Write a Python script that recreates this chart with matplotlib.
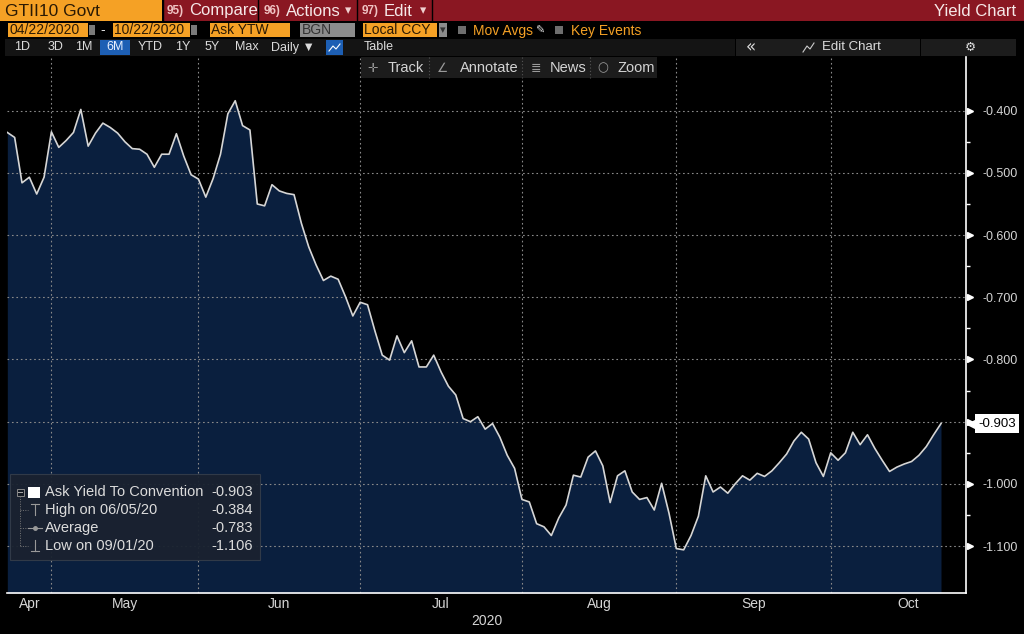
import matplotlib.pyplot as plt
import matplotlib.transforms as mtransforms
from matplotlib.patches import Rectangle
import numpy as np
import pandas as pd

plt.rcParams['font.family'] = ['Liberation Sans', 'DejaVu Sans']
plt.rcParams['axes.unicode_minus'] = False

# GTII10 Govt ask yield, daily, 04/22/2020 - 10/22/2020
yields = [
    -0.435, -0.443, -0.516, -0.507, -0.534, -0.507, -0.434, -0.459, -0.448, -0.435,
    -0.398, -0.457, -0.436, -0.420, -0.427, -0.436, -0.450, -0.461, -0.462, -0.470,
    -0.491, -0.470, -0.470, -0.437, -0.473, -0.503, -0.510, -0.539, -0.509, -0.470,
    -0.405, -0.384, -0.424, -0.431, -0.550, -0.553, -0.519, -0.529, -0.533, -0.535,
    -0.581, -0.619, -0.648, -0.673, -0.666, -0.671, -0.699, -0.730, -0.708, -0.712,
    -0.754, -0.793, -0.801, -0.762, -0.789, -0.770, -0.812, -0.812, -0.793, -0.820,
    -0.843, -0.857, -0.895, -0.900, -0.892, -0.912, -0.903, -0.925, -0.954, -0.975,
    -1.025, -1.029, -1.064, -1.069, -1.083, -1.055, -1.034, -0.986, -0.989, -0.957,
    -0.947, -0.971, -1.030, -0.987, -0.979, -1.013, -1.025, -1.022, -1.042, -0.999,
    -1.047, -1.104, -1.106, -1.083, -1.052, -0.987, -1.013, -1.005, -1.015, -1.000,
    -0.987, -0.994, -0.983, -0.988, -0.979, -0.966, -0.952, -0.931, -0.917, -0.928,
    -0.966, -0.988, -0.950, -0.962, -0.950, -0.917, -0.937, -0.921, -0.943, -0.962,
    -0.980, -0.973, -0.968, -0.964, -0.954, -0.940, -0.921, -0.903,
]
bond_holidays = ['2020-05-25', '2020-07-03', '2020-09-07', '2020-10-12']
month_names = ['Apr', 'May', 'Jun', 'Jul', 'Aug', 'Sep', 'Oct']
y_ticks = [-0.4, -0.5, -0.6, -0.7, -0.8, -0.9, -1.0, -1.1]
legend_labels = ['Ask Yield To Convention', 'High on 06/05/20', 'Average', 'Low on 09/01/20']
legend_values = ['-0.903', '-0.384', '-0.783', '-1.106']

cal = pd.bdate_range('2020-04-22', '2020-10-31', freq='C', holidays=bond_holidays)
x = np.arange(len(yields))
pos = pd.Series(np.arange(len(cal)), index=cal)
month_ends = pos.groupby(cal.month).max().values
bounds = np.concatenate([[0], month_ends])
month_mid = (bounds[:-1] + bounds[1:]) / 2

W, H = 1024, 634
fig = plt.figure(figsize=(W / 100, H / 100), dpi=100, facecolor='black')

ax = fig.add_axes([7.3 / W, 41 / H, 958.7 / W, 536 / H], facecolor='black')
ax.set_xlim(0, 130.4)
ax.set_ylim(-1.1754, -0.3137)
ybot = ax.get_ylim()[0]
ax.fill_between(x, yields, ybot, color='#0a1f3e', lw=0, zorder=1)
ax.plot(x, yields, color='#d6d6d6', lw=1.2, zorder=3)

grid_kw = dict(color='#8a8a8a', lw=0.8, ls=(0, (1.5, 2.5)), zorder=2)
for yt in y_ticks:
    ax.axhline(yt, **grid_kw)
for me in month_ends[:-1]:
    ax.axvline(me, **grid_kw)

for s in ['left', 'top']:
    ax.spines[s].set_visible(False)
for s in ['right', 'bottom']:
    ax.spines[s].set_color('white')
    ax.spines[s].set_linewidth(1.2)

last = yields[-1]
ax.set_xticks([])
ax.yaxis.tick_right()
ax.set_yticks(y_ticks)
# the tick label next to the last-value tag is hidden behind it
ax.set_yticklabels(['' if abs(v - last) < 0.03 else f'{v:.3f}' for v in y_ticks])
ax.set_yticks(np.array(y_ticks[:-1]) - 0.05, minor=True)
ax.tick_params(axis='y', which='major', length=0, pad=12, labelsize=9, labelcolor='#d4d4d4')
ax.tick_params(axis='y', which='minor', length=3, width=1, color='white', direction='out')

blend = mtransforms.blended_transform_factory(ax.transAxes, ax.transData)
ax.plot([1 + 4 / 958] * len(y_ticks), y_ticks, ls='none', marker='>', ms=5,
        color='white', transform=blend, clip_on=False)

# last value tag
ax.plot([1 + 7 / 958], [last], marker='<', ms=9, color='white',
        transform=blend, clip_on=False, zorder=6)
ax.text(1 + 12 / 958, last, f'{last:.3f}', transform=blend, fontsize=9.5,
        color='black', va='center', ha='left', zorder=7,
        bbox=dict(boxstyle='square,pad=0.25', fc='white', ec='none'))

xblend = mtransforms.blended_transform_factory(ax.transData, ax.transAxes)
for m, xm in zip(month_names, month_mid):
    ax.text(xm, -0.021, m, transform=xblend, fontsize=10, color='#d4d4d4',
            ha='center', va='center')
ax.text(0.5, -0.052, '2020', transform=ax.transAxes, fontsize=10, color='#d4d4d4',
        ha='center', va='center')

# terminal chrome drawn in pixel coords
ov = fig.add_axes([0, 0, 1, 1], zorder=5)
ov.set_xlim(0, W)
ov.set_ylim(H, 0)
ov.axis('off')
ov.patch.set_alpha(0)


def box(x0, x1, y0, y1, c, **kw):
    ov.add_patch(Rectangle((x0, y0), x1 - x0, y1 - y0, fc=c, ec=kw.pop('ec', 'none'), **kw))


def txt(xp, yp, s, size=10, c='#e0e0e0', ha='left', **kw):
    ov.text(xp, yp, s, fontsize=size, color=c, ha=ha, va='center', **kw)


orange = '#f5a125'
dark = '#2b1a04'

# row 1
box(0, 162, 0, 21, orange)
txt(5, 11, 'GTII10 Govt', 12.5, dark)
box(163, W, 0, 21, '#8a1722')
for sx in [163, 258, 357, 432]:
    ov.plot([sx, sx], [0, 21], color='black', lw=1)
for x0, num, lab in [(167, '95)', 'Compare'), (264, '96)', 'Actions'), (362, '97)', 'Edit')]:
    txt(x0, 11, num, 8.5, '#f0c4c4', weight='bold')
    txt(x0 + 22, 11, lab, 12, '#f6e8e8')
for ax_x in [345, 420]:
    txt(ax_x, 11, '▾', 9, '#f0d0d0', family='DejaVu Sans')
txt(1016, 11, 'Yield Chart', 12, '#f6e8e8', ha='right')

# row 2
for x0, x1, lab in [(8, 88, '04/22/2020'), (113, 190, '10/22/2020'),
                    (210, 290, 'Ask YTW'), (363, 437, 'Local CCY')]:
    box(x0, x1, 23, 37, orange)
    txt(x0 + 1, 30.5, lab, 10, dark)
for x0 in [89, 191]:
    box(x0, x0 + 6, 25, 35, '#7a7a7a')
txt(103, 30.5, '-', 10, '#e0e0e0', ha='center')
box(300, 355, 23, 37, '#8c8c8c')
txt(302, 30.5, 'BGN', 10, '#333333')
box(439, 447, 23, 37, '#8c8c8c')
txt(443, 30.5, '▾', 8, '#333333', ha='center', family='DejaVu Sans')
box(458, 466, 26, 34, '#6e6e6e')
txt(473, 30.5, 'Mov Avgs', 10, orange)
txt(535, 30.5, '✎', 8, '#e0e0e0', family='DejaVu Sans')
box(555, 563, 26, 34, '#6e6e6e')
txt(571, 30.5, 'Key Events', 10, orange)

# row 3
box(5, 735, 39, 56, '#141414')
box(736, 920, 39, 56, '#1c1c1c')
box(921, 1016, 39, 56, '#1c1c1c')
for c, lab in [(22, '1D'), (55, '3D'), (84, '1M'), (150, 'YTD'), (183, '1Y'),
               (212, '5Y'), (247, 'Max')]:
    txt(c, 47.5, lab, 9, '#dcdcdc', ha='center')
box(100, 130, 40, 55, '#1d5fb4')
txt(115, 47.5, '6M', 9, '#e8f0ff', ha='center')
txt(271, 47.5, 'Daily ▼', 9, '#dcdcdc')
box(326, 343, 40, 55, '#1d5fb4')
ov.plot([329, 333, 336, 340], [51, 46, 49, 44], color='white', lw=0.8)
txt(364, 47.5, 'Table', 9, '#dcdcdc')
txt(746, 47.5, '«', 12, '#dcdcdc', family='DejaVu Sans')
ov.plot([803, 807, 810, 814], [52, 46, 49, 43], color='#cccccc', lw=0.8)
txt(822, 47.5, 'Edit Chart', 9.5, '#dcdcdc')
txt(970, 47.5, '⚙', 9, '#dcdcdc', ha='center', family='DejaVu Sans')

# row 4 toolbar over chart
box(361, 657, 57, 78, '#1c1c1c')
for sx in [429, 522, 590]:
    ov.plot([sx, sx], [57, 78], color='#555555', lw=0.8, ls=(0, (1, 2)))
for ic, xi, lab, xl in [('✛', 373, 'Track', 388), ('∠', 443, 'Annotate', 460),
                        ('≣', 536, 'News', 550), ('○', 603, 'Zoom', 618)]:
    txt(xi, 68, ic, 9, '#9a9a9a', ha='center', family='DejaVu Sans')
    txt(xl, 68, lab, 10.5, '#d4d4d4')

# legend panel
box(10, 260, 474, 560, '#1a2230', ec='#333c4a', lw=0.8, alpha=0.95)
row_y = [492.5, 510, 528, 545.5]
ov.plot([20, 20], [496, 545.5], color='#777777', lw=0.7, ls=(0, (1, 1.5)))
for ry in row_y[1:]:
    ov.plot([20, 28], [ry, ry], color='#777777', lw=0.7, ls=(0, (1, 1.5)))
box(16.5, 23.5, 488.5, 495.5, '#141a24', ec='#888888', lw=0.7)
ov.plot([18, 22], [492, 492], color='#aaaaaa', lw=0.7)
box(28, 40, 486.5, 498, 'white')
# high / average / low glyphs
ov.plot([31, 39], [504, 504], color='#999999', lw=0.8)
ov.plot([35, 35], [504, 515], color='#999999', lw=0.8)
ov.plot([28, 42], [528, 528], color='#999999', lw=0.8)
ov.plot([35], [528], marker='o', ms=2.5, color='#999999')
ov.plot([35, 35], [540, 551], color='#999999', lw=0.8)
ov.plot([31, 39], [551, 551], color='#999999', lw=0.8)
for ry, lab, val in zip(row_y, legend_labels, legend_values):
    txt(45, ry, lab, 10.5, '#dcdcdc')
    txt(253, ry, val, 10.5, '#dcdcdc', ha='right')

fig.savefig('out.png', dpi=100, facecolor='black')
